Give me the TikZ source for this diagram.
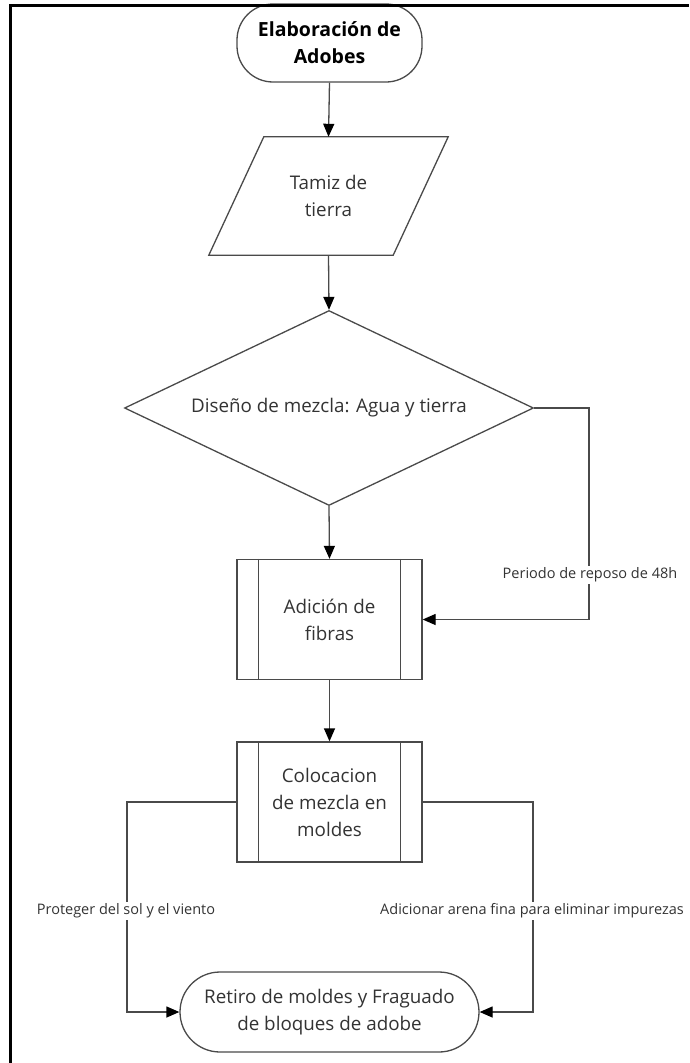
\documentclass[tikz,border=0pt]{standalone}
\usepackage{fontspec}
\setmainfont{Open Sans}
\usetikzlibrary{arrows.meta,shapes.geometric,calc}
\definecolor{lnc}{HTML}{4A4A4A}
\definecolor{txc}{HTML}{333333}
\tikzset{
  base/.style={draw=lnc, line width=1.3pt, text=txc, align=center, inner sep=0pt, font=\fontsize{18.8}{27}\selectfont},
  term/.style={base, rounded corners=36pt},
  procbox/.style={base, minimum width=185pt, minimum height=120pt},
  holder/.style={align=center, text=txc, inner sep=0pt, font=\fontsize{18.8}{27}\selectfont},
  decis/.style={base, shape=diamond, aspect=2.1, minimum width=409pt, minimum height=195pt},
  arr/.style={draw=lnc, line width=1.3pt, -{Triangle[length=13pt,width=11pt,color=black]}},
  conn/.style={draw=lnc, line width=1.3pt},
  lbl/.style={fill=white, text=txc, inner sep=1.5pt, font=\fontsize{14.5}{18}\selectfont}
}
\begin{document}
\begin{tikzpicture}[x=1pt,y=-1pt]
\useasboundingbox (0,0) rectangle (689,1063);
\fill[white] (0,0) rectangle (689,1063);

% start terminal
\node[term, minimum width=185pt, minimum height=78pt, text=black, font=\bfseries\fontsize{19.5}{27}\selectfont] (start) at (329.5,43) {Elaboración de\\Adobes};

% parallelogram
\node[holder, minimum width=185pt, minimum height=118pt] (tamiz) at (328.5,196) {Tamiz de\\tierra};
\draw[conn] ($(tamiz.north west)+(28,0)$) -- ($(tamiz.north east)+(27,0)$) -- ($(tamiz.south east)+(-28,0)$) -- ($(tamiz.south west)+(-27,0)$) -- cycle;

% decision
\node[decis] (dia) at (329,408) {Diseño de mezcla: Agua y tierra};

% process boxes
\node[procbox] (fib) at (329.5,619.5) {Adición de\\fibras};
\draw[conn] ([xshift=22pt]fib.north west) -- ([xshift=22pt]fib.south west);
\draw[conn] ([xshift=-22pt]fib.north east) -- ([xshift=-22pt]fib.south east);

\node[procbox] (col) at (329.5,802) {Colocacion\\de mezcla en\\moldes};
\draw[conn] ([xshift=22pt]col.north west) -- ([xshift=22pt]col.south west);
\draw[conn] ([xshift=-22pt]col.north east) -- ([xshift=-22pt]col.south east);

% end terminal
\node[term, minimum width=299pt, minimum height=80pt, rounded corners=40pt] (fin) at (329.5,1012) {Retiro de moldes y Fraguado\\de bloques de adobe};

% connectors
\draw[arr] (start.south) -- (tamiz.north);
\draw[arr] (tamiz.south) -- (dia.north);
\draw[arr] (dia.south) -- (fib.north);
\draw[arr] (fib.south) -- (col.north);

\coordinate (rb) at (589,408);
\draw[arr] (dia.east) -- (rb) |- (fib.east);
\node[lbl] (l1) at (590,575) {Periodo de reposo de 48h};

\coordinate (lb) at (127,802);
\draw[arr] (col.west) -- (lb) |- (fin.west);
\node[lbl] (l2) at (126,911) {Proteger del sol y el viento};

\coordinate (rb2) at (533,802);
\draw[arr] (col.east) -- (rb2) |- (fin.east);
\node[lbl] (l3) at (532,911) {Adicionar arena fina para eliminar impurezas};

% frame
\draw[black, line width=3pt] (10,1063) -- (10,5) -- (689,5);
\end{tikzpicture}
\end{document}
